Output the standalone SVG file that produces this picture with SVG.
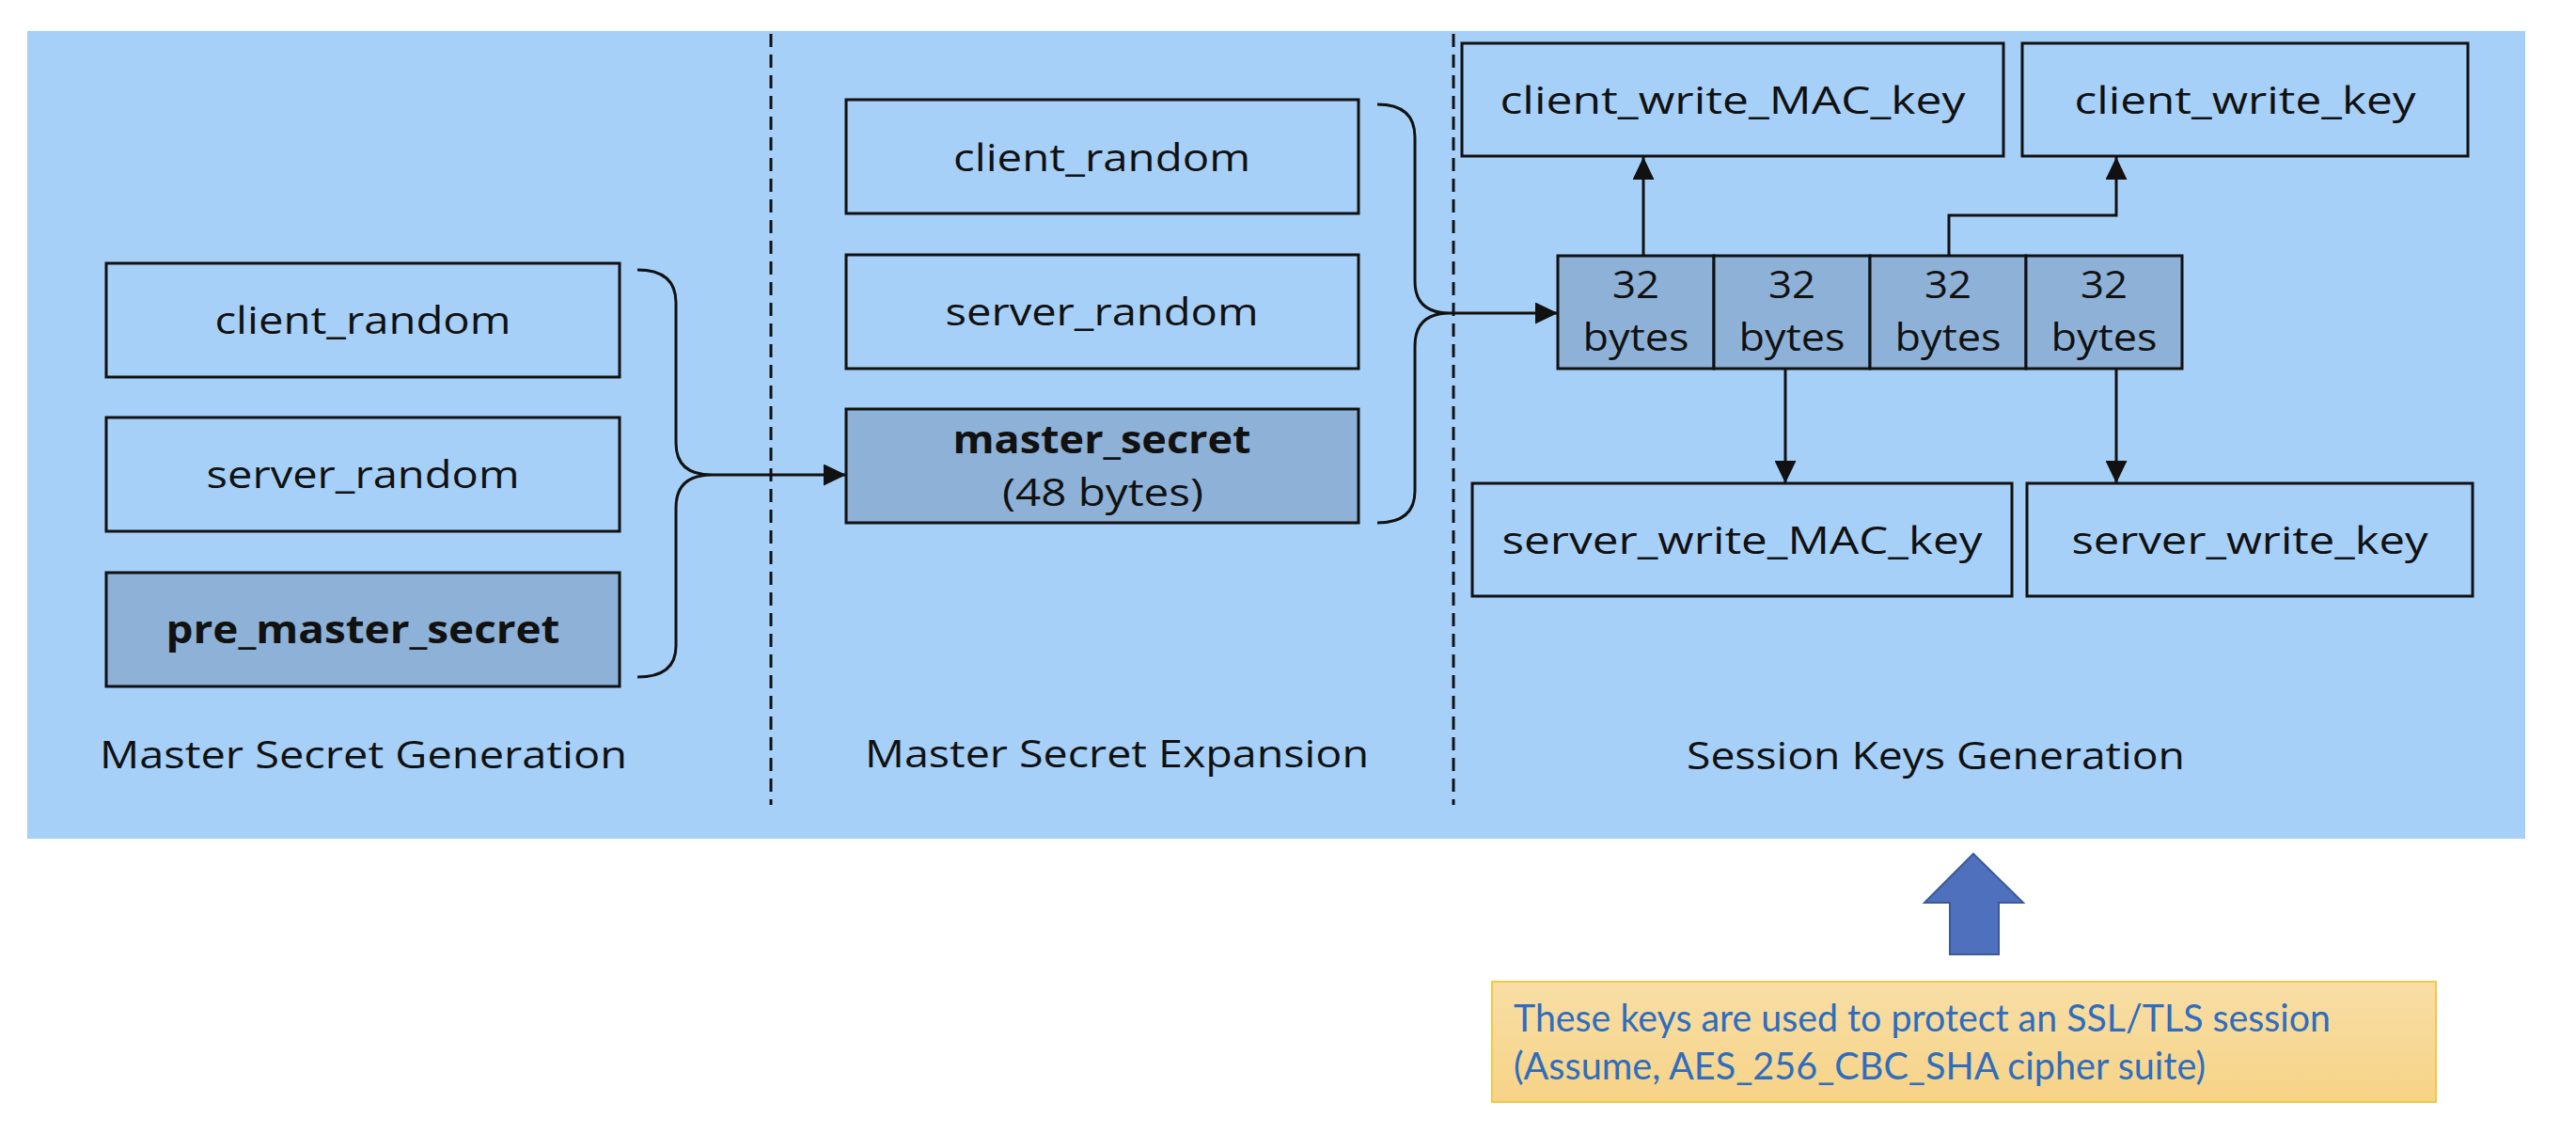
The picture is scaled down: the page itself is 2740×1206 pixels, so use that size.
<svg xmlns="http://www.w3.org/2000/svg" width="2740" height="1206" viewBox="0 0 2740 1206">
<style>
.box{stroke:#111;stroke-width:3;fill:none}
.dark{stroke:#111;stroke-width:3;fill:#8db1d7}
.t{font-family:"Open Sans","DejaVu Sans",sans-serif;font-size:41px;fill:#111;text-anchor:middle}
.b{font-weight:bold}
.lbl{font-family:"Open Sans","DejaVu Sans",sans-serif;font-size:41px;fill:#111}
.con{stroke:#111;stroke-width:3;fill:none}
.dash{stroke:#111;stroke-width:3;stroke-dasharray:14 8}
.note{font-family:Lato,"Open Sans",sans-serif;font-size:40px;fill:#2e6dbf}
</style>
<defs>
<marker id="ah" markerUnits="userSpaceOnUse" markerWidth="24" markerHeight="23" refX="24" refY="11.5" orient="auto">
<path d="M0,0 L24,11.5 L0,23 z" fill="#111"/>
</marker>
<linearGradient id="yg" x1="0" y1="0" x2="0" y2="1">
<stop offset="0" stop-color="#f8dea6"/>
<stop offset="1" stop-color="#f6d386"/>
</linearGradient>
</defs>
<rect width="2740" height="1206" fill="#fff"/>
<rect id="panel" x="29" y="33" width="2657" height="859" fill="#a6d0f8"/>
<line class="dash" x1="820" y1="36" x2="820" y2="856"/>
<line class="dash" x1="1546" y1="36" x2="1546" y2="856"/>

<g id="gen-client_random"><rect class="box" x="113" y="280" width="546" height="121"/><text class="t" x="386" y="355" textLength="315" lengthAdjust="spacingAndGlyphs">client_random</text></g>
<g id="gen-server_random"><rect class="box" x="113" y="444" width="546" height="121"/><text class="t" x="386" y="519" textLength="333" lengthAdjust="spacingAndGlyphs">server_random</text></g>
<g id="gen-pre_master_secret"><rect class="dark" x="113" y="609" width="546" height="121"/><text class="t b" x="386" y="684" textLength="419" lengthAdjust="spacingAndGlyphs">pre_master_secret</text></g>

<g id="exp-client_random"><rect class="box" x="900" y="106" width="545" height="121"/><text class="t" x="1172" y="182" textLength="316" lengthAdjust="spacingAndGlyphs">client_random</text></g>
<g id="exp-server_random"><rect class="box" x="900" y="271" width="545" height="121"/><text class="t" x="1172" y="346" textLength="333" lengthAdjust="spacingAndGlyphs">server_random</text></g>
<g id="exp-master_secret"><rect class="dark" x="900" y="435" width="545" height="121"/><text class="t b" x="1172" y="482" textLength="317" lengthAdjust="spacingAndGlyphs">master_secret</text><text class="t" x="1173" y="538" textLength="214" lengthAdjust="spacingAndGlyphs">(48 bytes)</text></g>

<g id="key-block">
<rect class="dark" x="1657" y="272" width="166" height="120"/>
<rect class="dark" x="1823" y="272" width="166" height="120"/>
<rect class="dark" x="1989" y="272" width="166" height="120"/>
<rect class="dark" x="2155" y="272" width="166" height="120"/>
<text class="t" x="1740" y="317" textLength="50" lengthAdjust="spacingAndGlyphs">32</text><text class="t" x="1740" y="373" textLength="113" lengthAdjust="spacingAndGlyphs">bytes</text>
<text class="t" x="1906" y="317" textLength="50" lengthAdjust="spacingAndGlyphs">32</text><text class="t" x="1906" y="373" textLength="113" lengthAdjust="spacingAndGlyphs">bytes</text>
<text class="t" x="2072" y="317" textLength="50" lengthAdjust="spacingAndGlyphs">32</text><text class="t" x="2072" y="373" textLength="113" lengthAdjust="spacingAndGlyphs">bytes</text>
<text class="t" x="2238" y="317" textLength="50" lengthAdjust="spacingAndGlyphs">32</text><text class="t" x="2238" y="373" textLength="113" lengthAdjust="spacingAndGlyphs">bytes</text>
</g>

<g id="client_write_MAC_key"><rect class="box" x="1555" y="46" width="576" height="120"/><text class="t" x="1843" y="121" textLength="495" lengthAdjust="spacingAndGlyphs">client_write_MAC_key</text></g>
<g id="client_write_key"><rect class="box" x="2151" y="46" width="474" height="120"/><text class="t" x="2388" y="121" textLength="363" lengthAdjust="spacingAndGlyphs">client_write_key</text></g>
<g id="server_write_MAC_key"><rect class="box" x="1566" y="514" width="574" height="120"/><text class="t" x="1853" y="589" textLength="511" lengthAdjust="spacingAndGlyphs">server_write_MAC_key</text></g>
<g id="server_write_key"><rect class="box" x="2156" y="514" width="474" height="120"/><text class="t" x="2393" y="589" textLength="379" lengthAdjust="spacingAndGlyphs">server_write_key</text></g>

<g id="connectors">
<path class="con" d="M678,287 Q719,287 719,322 L719,471 Q719,505 757,505 Q719,505 719,540 L719,687 Q719,720 678,720"/>
<path class="con" d="M757,505 L900,505" marker-end="url(#ah)"/>
<path class="con" d="M1465,111 Q1505,111 1505,146 L1505,299 Q1505,333 1542,333 Q1505,333 1505,368 L1505,522 Q1505,556 1465,556"/>
<path class="con" d="M1542,333 L1657,333" marker-end="url(#ah)"/>
<path class="con" d="M1748,272 L1748,167" marker-end="url(#ah)"/>
<path class="con" d="M2073,272 L2073,229 L2251,229 L2251,167" marker-end="url(#ah)"/>
<path class="con" d="M1899,392 L1899,514" marker-end="url(#ah)"/>
<path class="con" d="M2251,392 L2251,514" marker-end="url(#ah)"/>
</g>

<g id="section-labels">
<text class="lbl" x="106" y="817" textLength="561" lengthAdjust="spacingAndGlyphs">Master Secret Generation</text>
<text class="lbl" x="920" y="816" textLength="536" lengthAdjust="spacingAndGlyphs">Master Secret Expansion</text>
<text class="lbl" x="1794" y="818" textLength="530" lengthAdjust="spacingAndGlyphs">Session Keys Generation</text>
</g>

<g id="up-arrow">
<path d="M2099,908 L2152,960 L2126,960 L2126,1015 L2074,1015 L2074,960 L2047,960 Z" fill="#4f71bd" stroke="#3a5a96" stroke-width="2"/>
</g>

<g id="note">
<rect x="1587" y="1044" width="1004" height="128" fill="url(#yg)" stroke="#f4c843" stroke-width="2"/>
<text class="note" x="1610" y="1097" textLength="869" lengthAdjust="spacingAndGlyphs">These keys are used to protect an SSL/TLS session</text>
<text class="note" x="1610" y="1148" textLength="736" lengthAdjust="spacingAndGlyphs">(Assume, AES_256_CBC_SHA cipher suite)</text>
</g>
</svg>
